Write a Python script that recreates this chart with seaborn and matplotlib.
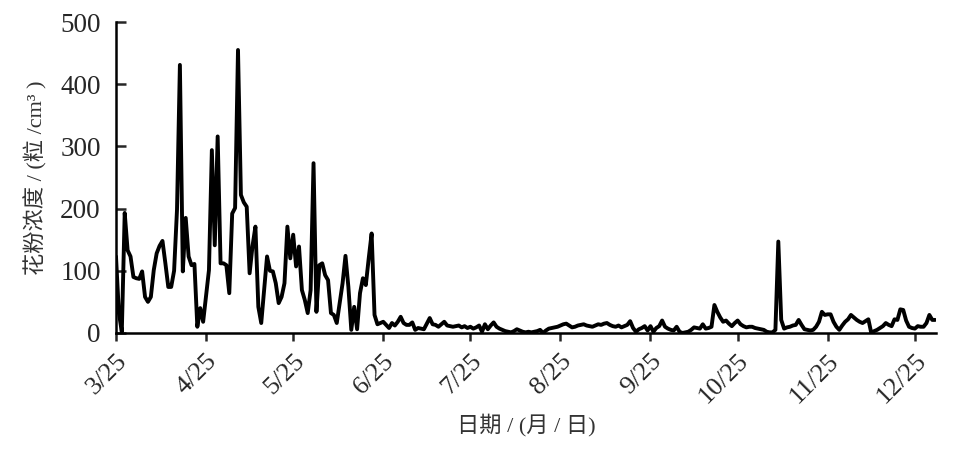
import pandas as pd
import matplotlib
matplotlib.use('Agg')
import matplotlib.pyplot as plt
import matplotlib.dates as mdates
from matplotlib.ticker import FuncFormatter
import seaborn as sns

# daily pollen concentration, starting 3/25
spring = [123, 32, 2, 193, 133, 123, 90, 88, 87, 99,
          58, 50, 58, 101, 128, 140, 148, 112, 74, 74,
          100, 198, 431, 99, 185, 123, 109, 111, 10, 40,
          18, 60, 101, 294, 141, 316, 112, 112, 109, 64,
          192, 201, 455, 222, 210, 203, 96, 140, 171, 42,
          16, 70, 123, 100, 99, 80, 48, 58, 80, 171,
          120, 158, 107, 139, 69, 53, 32, 69, 273, 34,
          109, 112, 93, 85, 32, 29, 16, 48, 80, 124,
          74, 5, 42, 6, 64, 88, 77, 120, 160, 29,
          14, 16, 18, 13]
summer = [8, 16, 12, 18, 26, 16, 13, 13, 17, 5,
          8, 7, 6, 15, 24, 14, 13, 10, 14, 18,
          12, 11, 10, 11, 12, 9, 11, 8, 10, 7,
          9, 12, 2, 14, 6, 12, 17, 10, 7, 5,
          3, 2, 1, 3, 6, 4, 2, 1, 2, 1,
          2, 3, 5, 0, 4, 7, 8, 9, 10, 12,
          14, 15, 12, 9, 10, 12, 13, 14, 12, 11,
          10, 12, 14, 13, 15, 16, 13, 11, 10, 12,
          9, 11, 13, 19, 8, 2, 6, 8, 11, 4,
          11, 2, 8, 11]
autumn = [20, 10, 7, 5, 4, 10, 2, 0, 1, 2,
          5, 9, 8, 7, 14, 7, 8, 10, 45, 34,
          25, 18, 20, 15, 11, 16, 20, 14, 11, 9,
          10, 10, 8, 7, 6, 5, 2, 1, 1, 5,
          147, 21, 7, 9, 10, 12, 13, 21, 13, 6,
          5, 4, 5, 10, 18, 34, 29, 30, 30, 18,
          10, 5, 12, 18, 22, 29, 25, 21, 18, 16,
          19, 22, 0, 3, 5, 8, 11, 16, 13, 11,
          22, 21, 38, 37, 20, 10, 8, 7, 11, 10,
          10, 16, 29, 21, 21]
pollen = spring + summer + autumn
dates = pd.date_range('2019-03-25', periods=len(pollen), freq='D')
df = pd.DataFrame({'date': dates, 'pollen': pollen})

tick_dates = pd.to_datetime(['2019-03-25', '2019-04-25', '2019-05-25', '2019-06-25',
                             '2019-07-25', '2019-08-25', '2019-09-25', '2019-10-25',
                             '2019-11-25', '2019-12-25'])
y_ticks = [0, 100, 200, 300, 400, 500]

sns.set_style('white')
plt.rcParams['font.family'] = ['Liberation Serif', 'Noto Sans CJK SC']

fig = plt.figure(figsize=(9.65, 4.49), dpi=100)
ax = fig.add_axes([0.1202, 0.2584, 0.8498, 0.6926])
sns.lineplot(data=df, x='date', y='pollen', color='black', linewidth=2.8, ax=ax)

ax.set_ylim(0, 500)
ax.set_xlim(dates[0], dates[0] + pd.Timedelta(days=282.3))
ax.set_yticks(y_ticks)
ax.set_xticks(tick_dates)
ax.xaxis.set_major_formatter(FuncFormatter(
    lambda v, pos: f"{mdates.num2date(v).month}/{mdates.num2date(v).day}"))

for s in ['top', 'right']:
    ax.spines[s].set_visible(False)
for s in ['left', 'bottom']:
    ax.spines[s].set_linewidth(1.8)
    ax.spines[s].set_color('black')

ax.tick_params(axis='y', direction='in', length=7, width=1.8, labelsize=19.5, pad=11, left=True)
ax.tick_params(axis='x', direction='out', length=6, width=1.8, labelsize=19, pad=6, bottom=True)
for lab in ax.get_xticklabels():
    lab.set_rotation(45)
    lab.set_ha('right')
    lab.set_rotation_mode('anchor')

ax.set_ylabel('花粉浓度 / (粒 /cm³ )', fontsize=16, color='#333333', labelpad=9)
ax.set_xlabel('日期 / (月 / 日)', fontsize=16, color='#333333', labelpad=4)

plt.savefig('out.png', dpi=100)
